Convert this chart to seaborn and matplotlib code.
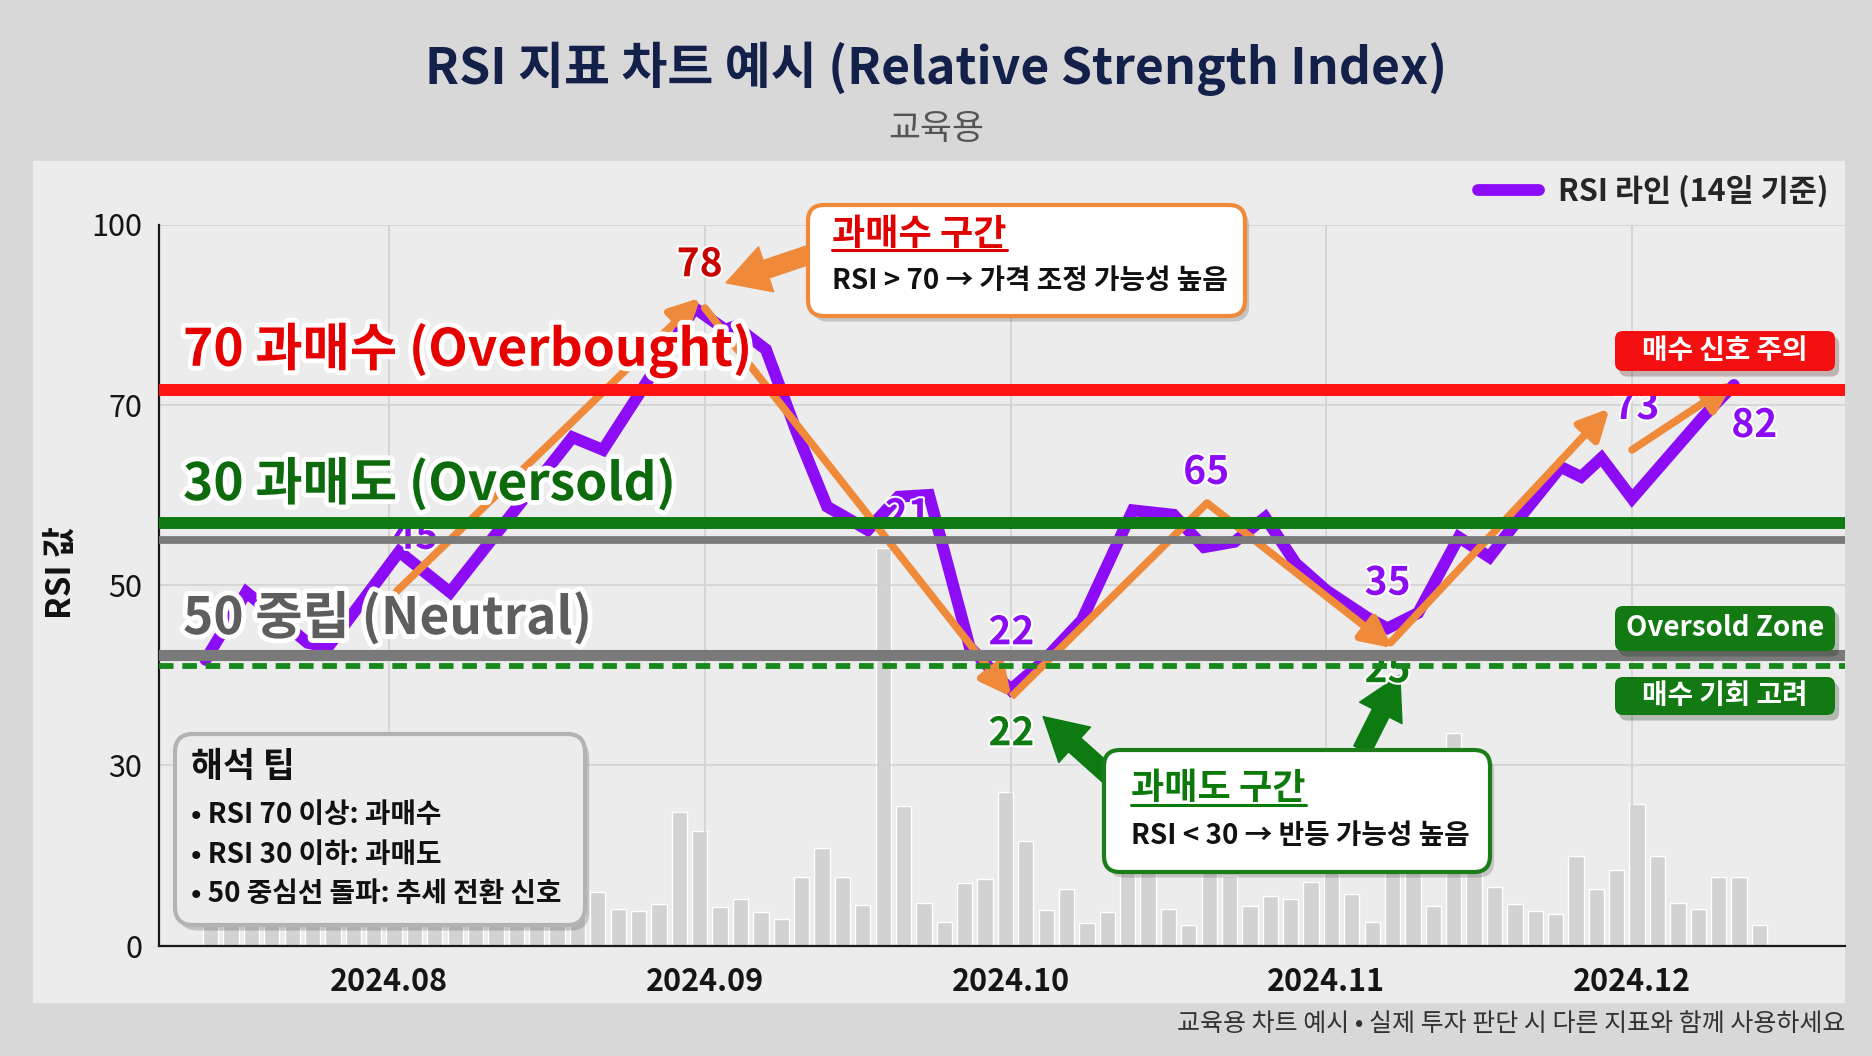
import numpy as np
import pandas as pd
import seaborn as sns
import matplotlib.pyplot as plt
import matplotlib.dates as mdates
import matplotlib.transforms as mtransforms
import matplotlib.patheffects as pe
from matplotlib.patches import FancyBboxPatch, Rectangle
from matplotlib.lines import Line2D

# RSI line vertices
rsi_dates = ['2024-07-14', '2024-07-18', '2024-07-24', '2024-07-26', '2024-08-02', '2024-08-07',
             '2024-08-19', '2024-08-22', '2024-08-31', '2024-09-03', '2024-09-04', '2024-09-07',
             '2024-09-10', '2024-09-13', '2024-09-17', '2024-09-20', '2024-09-23', '2024-09-24',
             '2024-09-27', '2024-10-01', '2024-10-04', '2024-10-08', '2024-10-13', '2024-10-17',
             '2024-10-20', '2024-10-23', '2024-10-26', '2024-10-29', '2024-11-01', '2024-11-05',
             '2024-11-07', '2024-11-10', '2024-11-14', '2024-11-17', '2024-11-20', '2024-11-24',
             '2024-11-26', '2024-11-28', '2024-12-01', '2024-12-08', '2024-12-11']
rsi_values = [41.7, 49.2, 43.6, 43.1, 53.7, 49.2,
              66.4, 65.0, 86.1, 82.5, 83.1, 79.2,
              67.0, 58.7, 56.1, 59.8, 60.0, 55.8,
              43.1, 38.4, 41.3, 46.1, 58.3, 57.8,
              54.2, 54.8, 57.5, 52.4, 49.4, 46.4,
              45.2, 46.9, 55.3, 53.1, 57.5, 63.1,
              62.0, 64.1, 59.6, 68.7, 73.3]

# background volume bars, one every 2 days, in % of the plot height
volume_start = '2024-07-14 12:00'
volume_values = [8, 10, 7, 9, 11, 8, 6, 9, 12, 7, 10, 8, 9, 11, 7, 8, 10, 9, 8,
                 7.5, 5.1, 4.8, 5.8, 18.5, 15.9, 5.4, 6.4, 4.7, 3.7,
                 9.5, 13.6, 9.5, 5.6, 55.1, 19.3, 5.9, 3.3, 8.7, 9.2,
                 21.3, 14.5, 4.9, 7.8, 3.1, 4.6, 12, 11, 5.1, 2.8,
                 12, 9.6, 5.5, 6.9, 6.5, 8.8, 11, 7.2, 3.3, 11,
                 12, 5.5, 29.5, 11, 8.1, 5.7, 4.8, 4.4, 12.4, 7.9,
                 10.5, 19.6, 12.4, 5.9, 5.1, 9.5, 9.5, 2.8]

# horizontal reference lines (red, green, grey, grey, green dashed)
level_values = [72.4, 56.9, 55.0, 42.2, 41.0]

rsi_ticks = [0, 30, 50, 70, 100]
month_ticks = ['2024-08-01', '2024-09-01', '2024-10-01', '2024-11-01', '2024-12-01']
month_labels = ['2024.08', '2024.09', '2024.10', '2024.11', '2024.12']

# value call-outs next to the line
callout_text = ['78', '45', '21', '22', '22', '65', '35', '25', '73', '82']
callout_dates = ['2024-08-31 12:00', '2024-08-03 14:00', '2024-09-20 22:00', '2024-10-01 02:00',
                 '2024-10-01 02:00', '2024-10-20 05:00', '2024-11-07 00:00', '2024-11-07 00:00',
                 '2024-12-01 10:00', '2024-12-13 00:00']
callout_values = [93.3, 55.3, 57.7, 44.7, 33.5, 62.5, 50.2, 40.5, 69.7, 67.7]

# orange trend arrows (dates, rsi)
trend_paths = [
    (['2024-08-01 18:00', '2024-08-31 14:00'], [49.3, 87.8]),
    (['2024-09-01 00:00', '2024-10-01 02:00'], [86.1, 37.6]),
    (['2024-10-01 02:00', '2024-10-20 07:00', '2024-11-07 12:00'], [37.6, 59.1, 43.0]),
    (['2024-11-07 07:00', '2024-11-28 19:00'], [43.6, 69.6]),
    (['2024-12-01 00:00', '2024-12-11 00:00'], [65.0, 73.7]),
]

purple = '#8c0cf5'
orange = '#ef8a3a'
red = '#ff1212'
green = '#0d7a12'
grey = '#7a7a7a'


def num(d):
    return mdates.date2num(pd.Timestamp(d))


sns.set_theme(style='whitegrid')
plt.rcParams['font.family'] = ['Noto Sans CJK KR', 'DejaVu Sans']
plt.rcParams['axes.unicode_minus'] = False

W, H = 1872, 1056
fig = plt.figure(figsize=(W / 100, H / 100), dpi=100)
fig.patch.set_facecolor('#d8d8d8')
# pixel coords measured from the top-left corner
px = mtransforms.Affine2D().scale(1 / W, -1 / H).translate(0, 1) + fig.transFigure

fig.add_artist(Rectangle((33, 161), 1812, 842, transform=px, facecolor='#ececec',
                         edgecolor='none', zorder=-10))

ax = fig.add_axes([159 / W, 1 - 945.6 / H, 1686 / W, 721.1 / H])
ax.patch.set_visible(False)

rsi = pd.DataFrame({'date': pd.to_datetime(rsi_dates), 'rsi': rsi_values})
sns.lineplot(data=rsi, x='date', y='rsi', ax=ax, color=purple, linewidth=8.5,
             label='RSI 라인 (14일 기준)', zorder=3, solid_joinstyle='miter')


def to_pos(v):
    return np.interp(v, rsi_ticks, [0, 25, 50, 75, 100])


def from_pos(p):
    return np.interp(p, [0, 25, 50, 75, 100], rsi_ticks)


ax.set_yscale('function', functions=(to_pos, from_pos))

ax2 = ax.twinx()
vol_dates = pd.date_range(volume_start, periods=len(volume_values), freq='2D')
ax2.bar(vol_dates, volume_values, width=1.5, color='#d2d2d2', zorder=1)
ax2.set_ylim(0, 100)
ax2.set_axis_off()
ax2.patch.set_visible(False)
ax2.set_zorder(-1)
ax.set_zorder(0)

aug1 = pd.Timestamp('2024-08-01')
ax.set_xlim(aug1 - pd.Timedelta(days=22.57), aug1 + pd.Timedelta(days=142.9))
ax.set_ylim(0, 100)
ax.set_yticks(rsi_ticks)
ax.set_yticklabels([str(t) for t in rsi_ticks])
ax.set_xticks(pd.to_datetime(month_ticks))
ax.set_xticklabels(month_labels, fontweight='bold')
ax.set_xlabel('')
ax.set_ylabel('')
ax.tick_params(axis='y', labelsize=22, pad=12, length=0, colors='#151515')
ax.tick_params(axis='x', labelsize=22, pad=15, length=0, colors='#151515')
ax.grid(True, color='#d4d4d4', linewidth=1.3)
ax.set_axisbelow(True)
for s in ['top', 'right']:
    ax.spines[s].set_visible(False)
for s in ['left', 'bottom']:
    ax.spines[s].set_color('#1a1a1a')
    ax.spines[s].set_linewidth(1.6)

# reference lines
level_colors = [red, green, grey, grey, '#17891c']
level_widths = [8.6, 8.6, 5.6, 8.0, 4.2]
level_styles = ['-', '-', '-', '-', (0, (2.5, 1.5))]
for val, col, lw, ls in zip(level_values, level_colors, level_widths, level_styles):
    ax.axhline(val, color=col, linewidth=lw, linestyle=ls, zorder=6)

# orange trend arrows
for dates, vals in trend_paths:
    xs = [num(d) for d in dates]
    if len(xs) > 2:
        ax.plot(xs[:-1], vals[:-1], color=orange, linewidth=5.5, zorder=4,
                solid_capstyle='butt')
    ax.annotate('', xy=(xs[-1], vals[-1]), xytext=(xs[-2], vals[-2]), zorder=4,
                arrowprops=dict(arrowstyle='-|>', color=orange, lw=5.5,
                                mutation_scale=45, shrinkA=0, shrinkB=0))

# pointer arrows from the cards
pointer_style = 'simple,head_length=0.8,head_width=0.9,tail_width=0.35'
for (d0, v0), (d1, v1), col in [(('2024-09-11 07:00', 95.0), ('2024-09-03 02:00', 90.3), orange),
                                (('2024-10-10 19:00', 28.1), ('2024-10-04 05:00', 35.4), green),
                                (('2024-11-04 12:00', 31.7), ('2024-11-08 05:00', 40.0), green)]:
    ax.annotate('', xy=(num(d1), v1), xytext=(num(d0), v0), zorder=4,
                arrowprops=dict(arrowstyle=pointer_style, color=col, mutation_scale=38,
                                shrinkA=0, shrinkB=0))

# value call-outs
callout_colors = ['#c80000', purple, purple, purple, green, purple, purple, green, purple, purple]
for t, dt, v, c in zip(callout_text, callout_dates, callout_values, callout_colors):
    ax.text(num(dt), v, t, color=c, fontsize=28, fontweight='bold',
            ha='center', va='center', zorder=5,
            path_effects=[pe.withStroke(linewidth=3, foreground='white')])

ax.legend(loc='center right', bbox_to_anchor=(1828 / W, 1 - 191 / H),
          bbox_transform=fig.transFigure, frameon=False,
          prop={'size': 22, 'weight': 'bold'}, handlelength=2.0, handletextpad=0.6,
          borderaxespad=0, borderpad=0)

# titles
fig.text(0.5, 1 - 69 / H, 'RSI 지표 차트 예시 (Relative Strength Index)', ha='center',
         va='center', fontsize=36, fontweight='heavy', color='#13204a')
fig.text(0.5, 1 - 129 / H, '교육용', ha='center', va='center', fontsize=25,
         fontweight='medium', color='#555555')
fig.text(61, 573, 'RSI 값', transform=px, rotation=90, ha='center', va='center',
         fontsize=24, fontweight='bold', color='#111111')
fig.text(1845, 1024, '교육용 차트 예시 • 실제 투자 판단 시 다른 지표와 함께 사용하세요',
         transform=px, ha='right', va='center', fontsize=18, color='#333333')

# big zone labels
outline = [pe.Stroke(linewidth=7, foreground='white'), pe.Normal()]
for txt, y, col in [('70 과매수 (Overbought)', 350, '#e60000'),
                    ('30 과매도 (Oversold)', 484, '#0d6b0d'),
                    ('50 중립 (Neutral)', 618, '#5e5e5e')]:
    fig.text(183, y, txt, transform=px, ha='left', va='center', fontsize=37,
             fontweight='heavy', color=col, path_effects=outline, zorder=7)


def card(x0, y0, x1, y1, fc, ec, lw, r=16, shadow=True):
    p = FancyBboxPatch((x0, y0), x1 - x0, y1 - y0, boxstyle=f'round,pad=0,rounding_size={r}',
                       transform=px, facecolor=fc, edgecolor=ec, linewidth=lw, zorder=8)
    if shadow:
        p.set_path_effects([pe.withSimplePatchShadow(offset=(3, -4), alpha=0.25)])
    fig.add_artist(p)


def label(x, y, s, **kw):
    kw.setdefault('zorder', 9)
    return fig.text(x, y, s, transform=px, **kw)


# overbought card
card(808, 205, 1245, 316, 'white', orange, 3)
t_ob = label(832, 234, '과매수 구간', ha='left', va='center', fontsize=26, fontweight='bold',
             color='#e00000')
label(832, 281, 'RSI > 70 → 가격 조정 가능성 높음', ha='left', va='center', fontsize=20,
      fontweight='bold', color='#111111')

# oversold card
card(1104, 750, 1490, 872, 'white', '#1a7d1a', 3)
t_os = label(1131, 789, '과매도 구간', ha='left', va='center', fontsize=26, fontweight='bold',
             color='#0b7a0b')
label(1131, 836, 'RSI < 30 → 반등 가능성 높음', ha='left', va='center', fontsize=20,
      fontweight='bold', color='#111111')

# tips card
card(175, 734, 585, 925, '#ececec', '#b3b3b3', 3, r=18)
label(191, 766, '해석 팁', ha='left', va='center', fontsize=25, fontweight='bold', color='#111111')
for y, s in [(815, '• RSI 70 이상: 과매수'), (855, '• RSI 30 이하: 과매도'),
             (894, '• 50 중심선 돌파: 추세 전환 신호')]:
    label(191, y, s, ha='left', va='center', fontsize=20, fontweight='bold', color='#111111')

# right-hand tags
for (y0, y1), s, col in [((331, 371), '매수 신호 주의', '#f41010'),
                         ((606, 651), 'Oversold Zone', '#137a13'),
                         ((677, 715), '매수 기회 고려', '#137a13')]:
    card(1615, y0, 1835, y1, col, 'none', 0, r=8)
    label(1725, (y0 + y1) / 2, s, ha='center', va='center', fontsize=20, fontweight='bold',
          color='white')

# underline the card titles
renderer = fig.canvas.get_renderer()
for t, col in [(t_ob, '#e00000'), (t_os, '#0b7a0b')]:
    bb = t.get_window_extent(renderer).transformed(fig.transFigure.inverted())
    fig.add_artist(Line2D([bb.x0, bb.x1], [bb.y0 + 0.002, bb.y0 + 0.002], color=col,
                          linewidth=2.2, transform=fig.transFigure, zorder=9))

fig.savefig('out.png', dpi=100, facecolor=fig.get_facecolor())
